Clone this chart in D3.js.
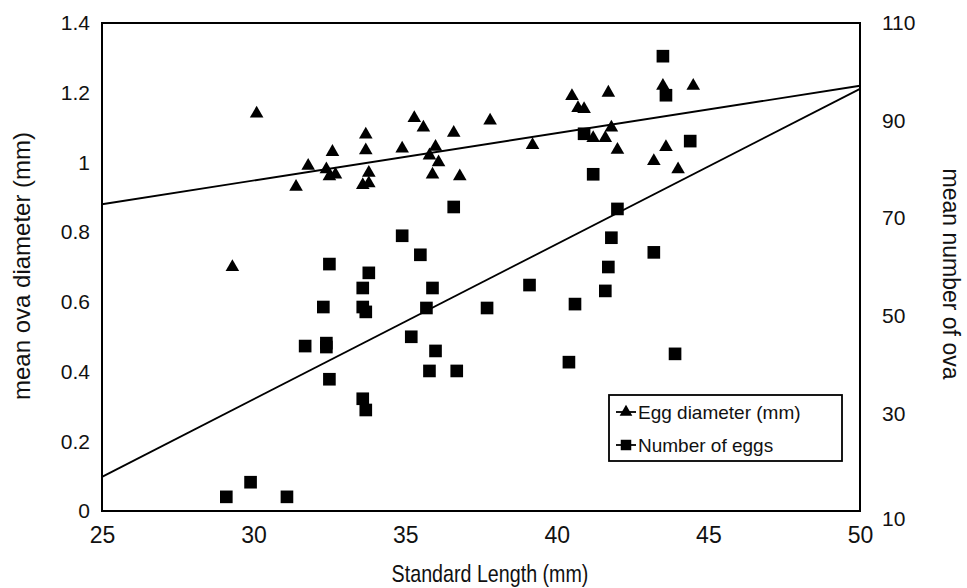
<!DOCTYPE html>
<html>
<head>
<meta charset="utf-8">
<script src="https://cdn.jsdelivr.net/npm/d3@7"></script>
<style>
  body { margin: 0; background: #fff; }
  svg { display: block; }
  text { font-family: "Liberation Sans", Arial, sans-serif; fill: #111; }
</style>
</head>
<body>
<svg id="chart" width="967" height="588"></svg>
<script>
// ---- Data ----
const xTicks = [25, 30, 35, 40, 45, 50];
const leftTicks = [0, 0.2, 0.4, 0.6, 0.8, 1, 1.2, 1.4];
const rightTicks = [10, 30, 50, 70, 90, 110];

// Egg diameter (mm) vs standard length (mm)
const eggLength = [30.1, 29.3, 31.4, 31.8, 32.4, 32.5, 32.6, 32.7, 33.6, 33.7, 33.7, 33.8, 33.8,
  34.9, 35.3, 35.6, 35.8, 35.9, 36.0, 36.1, 36.6, 36.8, 37.8, 39.2, 40.5, 40.7, 40.9,
  41.2, 41.6, 41.7, 41.8, 42.0, 43.2, 43.5, 43.6, 44.0, 44.5];
const eggDiameter = [1.14, 0.70, 0.93, 0.99, 0.98, 0.96, 1.03, 0.965, 0.935, 1.08, 1.035, 0.97, 0.94,
  1.04, 1.127, 1.10, 1.02, 0.965, 1.045, 1.00, 1.085, 0.96, 1.12, 1.05, 1.19, 1.156, 1.153,
  1.07, 1.07, 1.20, 1.10, 1.036, 1.004, 1.22, 1.044, 0.98, 1.22];

// Number of eggs vs standard length (mm)
const numLength = [29.1, 29.9, 31.1, 31.7, 32.3, 32.4, 32.4, 32.5, 32.5, 33.6, 33.7, 33.6, 33.8,
  33.6, 33.7, 34.9, 35.2, 35.5, 35.7, 35.9, 36.0, 35.8, 36.6, 36.7, 37.7, 39.1, 40.4,
  40.6, 40.9, 41.2, 41.6, 41.7, 41.8, 42.0, 43.2, 43.5, 43.6, 43.9, 44.4];
const numEggs = [12.9, 15.9, 12.9, 43.8, 51.8, 44.4, 43.6, 60.6, 37.0, 51.8, 50.8, 55.7, 58.8,
  33.0, 30.7, 66.4, 45.7, 62.5, 51.6, 55.7, 42.8, 38.7, 72.3, 38.7, 51.6, 56.3, 40.5,
  52.4, 87.3, 79.0, 55.1, 60.0, 66.0, 71.9, 63.0, 103.2, 95.2, 42.2, 85.8];

// Linear trend lines (endpoints)
const trendX = [25, 50];
const eggTrend = [0.88, 1.22];
const numTrend = [17.0, 96.5];

// ---- Layout ----
const svg = d3.select("#chart");
const L = 102, R = 860, T = 23, B = 511;
const FONT = "'Liberation Sans', Arial, sans-serif";

const x = d3.scaleLinear().domain([25, 50]).range([L, R]);
const yL = d3.scaleLinear().domain([0, 1.4]).range([B, T]);
const yR = d3.scaleLinear().domain([10, 110]).range([B, T]);

// Frame
svg.append("rect").attr("x", L).attr("y", T).attr("width", R - L).attr("height", B - T)
  .attr("fill", "none").attr("stroke", "#000").attr("stroke-width", 2);

// Axes (labels only, no tick marks)
const xAxis = d3.axisBottom(x).tickValues(xTicks).tickSize(0).tickPadding(0).tickFormat(d3.format("d"));
const gx = svg.append("g").attr("transform", `translate(0,${B})`).call(xAxis);
gx.select(".domain").remove();
gx.selectAll("text").attr("dy", null).attr("y", 32).style("font-size", "23px")
  .style("font-family", FONT).attr("fill", "#111");

const yAxisL = d3.axisLeft(yL).tickValues(leftTicks).tickSize(0).tickPadding(12)
  .tickFormat(d => d3.format("")(+d.toFixed(1)));
const gl = svg.append("g").attr("transform", `translate(${L},0)`).call(yAxisL);
gl.select(".domain").remove();
gl.selectAll("text").style("font-size", "21px")
  .style("font-family", FONT).attr("fill", "#111");

const yAxisR = d3.axisRight(yR).tickValues(rightTicks).tickSize(0).tickPadding(22).tickFormat(d3.format("d"));
const gr = svg.append("g").attr("transform", `translate(${R},0)`).call(yAxisR);
gr.select(".domain").remove();
gr.selectAll("text").style("font-size", "21px")
  .style("font-family", FONT).attr("fill", "#111");
gr.selectAll(".tick").filter(d => d === 10).select("text").attr("dy", "0.7em");

// Axis titles
svg.append("text").attr("transform", "translate(490,582) scale(0.82,1)").attr("text-anchor", "middle")
  .style("font-size", "24px").text("Standard Length (mm)");
svg.append("text").attr("transform", "translate(30,266) rotate(-90)").attr("text-anchor", "middle")
  .style("font-size", "24px").text("mean ova diameter (mm)");
svg.append("text").attr("transform", "translate(943,274) rotate(90)").attr("text-anchor", "middle")
  .style("font-size", "23px").text("mean number of ova");

// Trend lines
const eggLine = trendX.map((v, i) => [v, eggTrend[i]]);
const numLine = trendX.map((v, i) => [v, numTrend[i]]);
svg.append("path").datum(eggLine)
  .attr("d", d3.line().x(d => x(d[0])).y(d => yL(d[1])))
  .attr("fill", "none").attr("stroke", "#000").attr("stroke-width", 1.8);
svg.append("path").datum(numLine)
  .attr("d", d3.line().x(d => x(d[0])).y(d => yR(d[1])))
  .attr("fill", "none").attr("stroke", "#000").attr("stroke-width", 1.8);

// Points
const tri = d3.symbol().type(d3.symbolTriangle).size(80);
const sq = d3.symbol().type(d3.symbolSquare).size(160);
svg.append("g").selectAll("path").data(eggLength.map((v, i) => [v, eggDiameter[i]]))
  .join("path").attr("d", tri)
  .attr("transform", d => `translate(${x(d[0])},${yL(d[1])})`).attr("fill", "#000");
svg.append("g").selectAll("path").data(numLength.map((v, i) => [v, numEggs[i]]))
  .join("path").attr("d", sq)
  .attr("transform", d => `translate(${x(d[0])},${yR(d[1])})`).attr("fill", "#000");

// Legend
const lg = svg.append("g");
lg.append("rect").attr("x", 609).attr("y", 395).attr("width", 233).attr("height", 66)
  .attr("fill", "#fff").attr("stroke", "#000").attr("stroke-width", 1.8);
const legendItems = [
  { label: "Egg diameter (mm)", sym: d3.symbol().type(d3.symbolTriangle).size(70), y: 412 },
  { label: "Number of eggs", sym: d3.symbol().type(d3.symbolSquare).size(110), y: 445 }
];
legendItems.forEach(it => {
  lg.append("line").attr("x1", 616).attr("x2", 636).attr("y1", it.y).attr("y2", it.y)
    .attr("stroke", "#000").attr("stroke-width", 1.8);
  lg.append("path").attr("d", it.sym).attr("transform", `translate(626,${it.y})`).attr("fill", "#000");
  lg.append("text").attr("x", 638).attr("y", it.y).attr("dy", "0.36em")
    .style("font-size", "19px").text(it.label);
});
</script>
</body>
</html>
